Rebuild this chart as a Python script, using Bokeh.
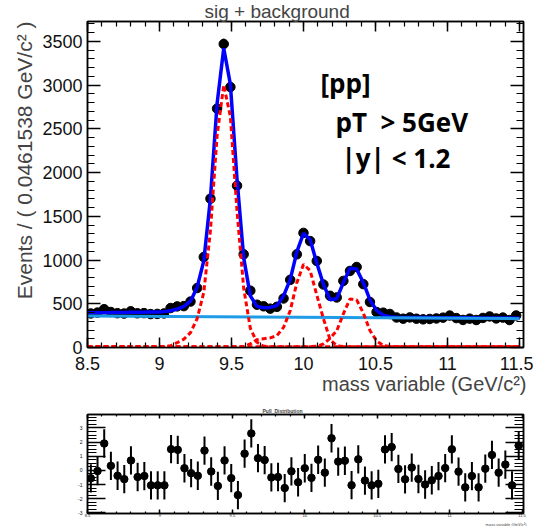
import numpy as np
from bokeh.plotting import figure
from bokeh.models import (Range1d, LinearAxis, Label, FixedTicker, Title,
                          CustomLabelingPolicy)
from bokeh.layouts import column
from bokeh.embed import file_html
from bokeh.resources import INLINE

# ---------------- data ----------------
mass_lo = 8.5
mass_hi = 11.5
n_bins = 65

events = [389, 399, 438, 406, 392, 388, 414, 391, 393, 382,
          384, 389, 451, 470, 473, 525, 680, 1034, 1701, 2730,
          3469, 2977, 1849, 1065, 650, 489, 471, 444, 465, 560,
          773, 1065, 1310, 1216, 989, 720, 591, 572, 761, 875,
          920, 724, 520, 405, 398, 383, 343, 329, 344, 329,
          322, 326, 332, 341, 365, 336, 315, 330, 314, 338,
          355, 332, 342, 314, 366]

fit_total = [396, 397, 398, 399, 400, 401, 402, 403, 404, 405,
             406, 410, 420, 440, 470, 530, 690, 990, 1704, 2787,
             3420, 3007, 1924, 1027, 590, 470, 455, 458, 478, 590,
             775, 1092, 1305, 1234, 965, 724, 545, 557, 742, 906,
             896, 743, 545, 425, 370, 352, 345, 344, 343, 343,
             342, 342, 341, 341, 340, 340, 339, 339, 338, 338,
             337, 337, 336, 336, 335]

sig_1s = [10, 10, 10, 10, 10, 10, 10, 10, 10, 10,
          10, 12, 20, 55, 95, 170, 330, 630, 1340, 2420,
          3000, 2640, 1560, 680, 220, 60, 15, 10, 10, 10,
          10, 10, 10, 10, 10, 10, 10, 10, 10, 10,
          10, 10, 10, 10, 10, 10, 10, 10, 10, 10,
          10, 10, 10, 10, 10, 10, 10, 10, 10, 10,
          10, 10, 10, 10, 10]

sig_2s = [10, 10, 10, 10, 10, 10, 10, 10, 10, 10,
          10, 10, 10, 10, 10, 10, 10, 10, 10, 10,
          10, 10, 10, 10, 40, 90, 100, 110, 135, 230,
          420, 740, 950, 880, 600, 330, 90, 20, 10, 10,
          10, 10, 10, 10, 10, 10, 10, 10, 10, 10,
          10, 10, 10, 10, 10, 10, 10, 10, 10, 10,
          10, 10, 10, 10, 10]

sig_3s = [10, 10, 10, 10, 10, 10, 10, 10, 10, 10,
          10, 10, 10, 10, 10, 10, 10, 10, 10, 10,
          10, 10, 10, 10, 10, 10, 10, 10, 10, 10,
          10, 10, 10, 10, 15, 40, 105, 190, 385, 555,
          545, 393, 195, 75, 22, 12, 10, 10, 10, 10,
          10, 10, 10, 10, 10, 10, 10, 10, 10, 10,
          10, 10, 10, 10, 10]

bkg_mass = [8.5, 11.5]
bkg_level = [360, 330]

pulls = [-0.56, -0.05, 1.9, 0.32, -0.38, -0.62, 0.7, -0.47, -0.4, -1.06,
         -1.06, -1.06, 1.5, 1.45, 0.15, -0.2, -0.38, 1.4, -0.08, -1.1,
         0.7, -0.55, -1.75, 1.18, 2.61, 0.86, 0.73, -0.5, -0.47, -1.25,
         -0.07, -0.84, 0.15, -0.53, 0.75, -0.16, 2.27, 0.62, 0.68, -1.05,
         0.78, -0.72, -1.06, -0.95, 1.48, 1.65, 0.1, -0.63, 0.2, -0.61,
         -1.0, -0.7, -0.4, 0.16, 1.49, -0.09, -1.2, -0.4, -1.2, 0.12,
         1.09, -0.16, 0.41, -1.06, 1.75]

x_ticks = [8.5, 9, 9.5, 10, 10.5, 11, 11.5]
x_tick_labels = ["8.5", "9", "9.5", "10", "10.5", "11", "11.5"]
y_ticks = [0, 500, 1000, 1500, 2000, 2500, 3000, 3500]
y_tick_labels = ["0", "500", "1000", "1500", "2000", "2500", "3000", "3500"]
pull_ticks = [-3, -2, -1, 0, 1, 2, 3]
pull_tick_labels = ["-3", "-2", "-1", "0", "1", "2", "3"]

title_text = "sig + background"
x_title = "mass variable (GeV/c\u00b2)"
y_title = "Events / ( 0.0461538 GeV/c\u00b2 )"
info_lines = ["[pp]", "pT\u00a0\u00a0> 5GeV", "|y| < 1.2"]
pull_title = "Pull_Distribution"
pull_x_title = "mass variable (GeV/c\u00b2)"

# ---------------- derived ----------------
bw = (mass_hi - mass_lo) / n_bins
centers = mass_lo + (np.arange(n_bins) + 0.5) * bw
ev = np.array(events, dtype=float)
err = np.sqrt(ev)
curve_x = np.concatenate([[mass_lo], centers, [mass_hi]])


def ext(v):
    return [v[0]] + list(v) + [v[-1]]


FONT = "Liberation Sans"
BLUE = "#0000ff"
RED = "#ff0000"
LBLUE = "#1e9be6"

HIDE_LABELS = "for (const i of [...indices]) indices.unset(i)\nreturn indices"


def style_axis(ax, maj_in, min_in, label_size, standoff, hidden=False):
    ax.axis_line_color = "black"
    ax.axis_line_width = 1.5
    ax.major_tick_line_color = "black"
    ax.major_tick_line_width = 1.5
    ax.minor_tick_line_color = "black"
    ax.minor_tick_line_width = 1.2
    ax.major_tick_in = maj_in
    ax.major_tick_out = 0
    ax.minor_tick_in = min_in
    ax.minor_tick_out = 0
    ax.major_label_text_font = FONT
    ax.major_label_text_font_size = label_size
    ax.major_label_text_color = "#111111"
    ax.major_label_standoff = standoff
    if hidden:
        ax.major_label_policy = CustomLabelingPolicy(code=HIDE_LABELS)


# ---------------- main plot ----------------
XMAX = 11.528
YMAX = 3726
p = figure(width=533, height=406,
           x_range=Range1d(mass_lo, XMAX), y_range=Range1d(0, YMAX),
           output_backend="svg", toolbar_location=None,
           min_border_left=87, min_border_right=10,
           min_border_top=21, min_border_bottom=59)
p.xgrid.visible = False
p.ygrid.visible = False
p.outline_line_color = "black"
p.outline_line_width = 1.5
p.background_fill_color = "white"
p.border_fill_color = "white"

x_minor = list(np.round(np.arange(8.5, 11.55, 0.1), 2))
y_minor = list(np.arange(0, 3701, 100))

p.xaxis.ticker = FixedTicker(ticks=x_ticks, minor_ticks=x_minor)
p.xaxis.major_label_overrides = dict(zip(x_ticks, x_tick_labels))
style_axis(p.xaxis[0], 10, 5, "18px", 9)
p.yaxis.ticker = FixedTicker(ticks=y_ticks, minor_ticks=y_minor)
p.yaxis.major_label_overrides = dict(zip(y_ticks, y_tick_labels))
style_axis(p.yaxis[0], 13, 7, "18px", 5)

top_ax = LinearAxis(ticker=FixedTicker(ticks=x_ticks, minor_ticks=x_minor))
style_axis(top_ax, 10, 5, "1px", 0, hidden=True)
p.add_layout(top_ax, "above")
right_ax = LinearAxis(ticker=FixedTicker(ticks=y_ticks, minor_ticks=y_minor))
style_axis(right_ax, 13, 7, "1px", 0, hidden=True)
p.add_layout(right_ax, "right")

# titles outside the frame
p.add_layout(Title(text=title_text, align="left", offset=117,
                   text_font=FONT, text_font_size="19px",
                   text_font_style="normal", standoff=-9), "above")
p.add_layout(Title(text=x_title, align="right", offset=-3,
                   text_font=FONT, text_font_size="20px",
                   text_font_style="normal", standoff=-4), "below")
p.add_layout(Title(text=y_title, align="right", offset=0,
                   text_font=FONT, text_font_size="21px",
                   text_font_style="normal", standoff=7), "left")

# data points with error bars
p.segment(x0=centers - bw / 2, x1=centers + bw / 2, y0=ev, y1=ev,
          line_color="black", line_width=2)
p.segment(x0=centers, x1=centers, y0=ev - err, y1=ev + err,
          line_color="black", line_width=2)
p.scatter(centers, ev, size=9.5, color="black")

# fit curves
p.line(curve_x, ext(fit_total), line_color=BLUE, line_width=3.5)
p.line(bkg_mass, bkg_level, line_color=LBLUE, line_width=3)
for comp in (sig_1s, sig_2s, sig_3s):
    p.line(curve_x, ext(comp), line_color=RED, line_width=3, line_dash="5 3")

# px per data unit (main frame)
FRAME_L = 87.0
FRAME_B = 347.0
px_x = 144.0
px_y = 0.0875

info_pos = [(320, 82), (335, 121.7), (341, 157)]
for txt, (px, py) in zip(info_lines, info_pos):
    p.add_layout(Label(x=mass_lo + (px - FRAME_L) / px_x,
                       y=(FRAME_B - py) / px_y, text=txt,
                       text_font="Open Sans", text_font_size="26px",
                       text_font_style="bold", text_align="left",
                       text_baseline="alphabetic", text_color="black"))

# ---------------- pull plot ----------------
p2 = figure(width=533, height=120,
            x_range=Range1d(mass_lo, 11.51), y_range=Range1d(-3.05, 3.95),
            output_backend="svg", toolbar_location=None,
            min_border_left=87, min_border_right=10,
            min_border_top=8, min_border_bottom=10)
p2.xgrid.visible = False
p2.ygrid.visible = False
p2.outline_line_color = "black"
p2.outline_line_width = 1.5
p2.border_fill_color = "white"

pull_minor = list(np.round(np.arange(-3, 3.95, 0.25), 2))
p2.xaxis.ticker = FixedTicker(ticks=x_ticks, minor_ticks=x_minor)
p2.xaxis.major_label_overrides = dict(zip(x_ticks, x_tick_labels))
style_axis(p2.xaxis[0], 4, 2, "4px", 0)
p2.yaxis.ticker = FixedTicker(ticks=pull_ticks, minor_ticks=pull_minor)
p2.yaxis.major_label_overrides = dict(zip(pull_ticks, pull_tick_labels))
style_axis(p2.yaxis[0], 18, 9, "5px", 5)
top2 = LinearAxis(ticker=FixedTicker(ticks=x_ticks, minor_ticks=x_minor))
style_axis(top2, 4, 2, "1px", 0, hidden=True)
p2.add_layout(top2, "above")
right2 = LinearAxis(ticker=FixedTicker(ticks=pull_ticks, minor_ticks=pull_minor))
style_axis(right2, 18, 9, "1px", 0, hidden=True)
p2.add_layout(right2, "right")

p2.add_layout(Title(text=pull_title, align="left", offset=175,
                    text_font=FONT, text_font_size="5px",
                    text_font_style="bold", standoff=-6), "above")
p2.add_layout(Title(text=pull_x_title, align="right", offset=-3,
                    text_font=FONT, text_font_size="4px",
                    text_font_style="normal", standoff=0), "below")

pl = np.array(pulls)
p2.segment(x0=centers, x1=centers, y0=pl - 1, y1=pl + 1,
           line_color="black", line_width=2)
p2.scatter(centers, pl, size=7.5, color="black")

layout = column(p, p2)
open("out.html", "w").write(file_html(layout, INLINE))
